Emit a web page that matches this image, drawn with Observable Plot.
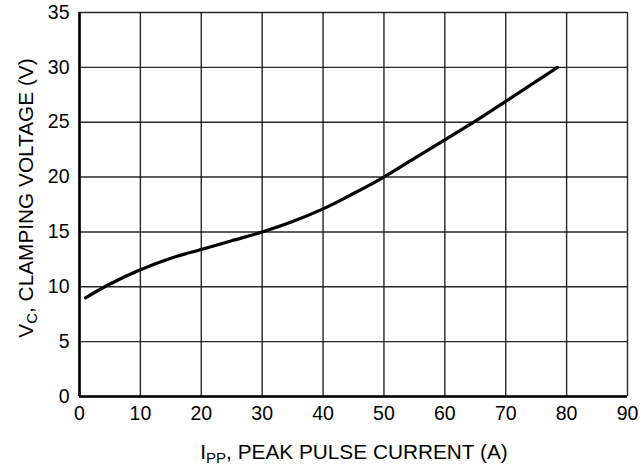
<!DOCTYPE html>
<html>
<head>
<meta charset="utf-8">
<script src="https://cdn.jsdelivr.net/npm/d3@7"></script>
<script src="https://cdn.jsdelivr.net/npm/@observablehq/plot@0.6"></script>
<style>
  html, body { margin: 0; padding: 0; background: #fff; }
  #chart { width: 644px; height: 467px; }
</style>
</head>
<body>
<div id="chart"></div>
<script>
const currentA = [1, 5, 10, 15, 20, 25, 30, 35, 40, 45, 50, 55, 60, 65, 70, 78.5];
const clampV   = [9, 10.25, 11.55, 12.6, 13.4, 14.2, 15, 15.95, 17.1, 18.5, 20, 21.7, 23.4, 25.1, 26.9, 30];
const xTicks = [0, 10, 20, 30, 40, 50, 60, 70, 80, 90];
const yTicks = [0, 5, 10, 15, 20, 25, 30, 35];

const data = currentA.map((x, i) => ({x, y: clampV[i]}));

const plot = Plot.plot({
  width: 644,
  height: 467,
  marginLeft: 79,
  marginRight: 17,
  marginTop: 12,
  marginBottom: 71,
  style: {fontFamily: "'Liberation Sans', Arial, sans-serif", fontSize: "19.5px", color: "#000", background: "#fff"},
  x: {domain: [0, 90], ticks: xTicks, label: null, tickSize: 0, tickPadding: 10},
  y: {domain: [0, 35], ticks: yTicks, label: null, tickSize: 0, tickPadding: 10},
  marks: [
    Plot.gridX(xTicks, {stroke: "#000", strokeOpacity: 0.85, strokeWidth: 1.4}),
    Plot.gridY(yTicks, {stroke: "#000", strokeOpacity: 0.85, strokeWidth: 1.4}),
    Plot.axisX({ticks: xTicks, tickSize: 0, tickPadding: 10, fontSize: 19.5}),
    Plot.axisY({ticks: yTicks, tickSize: 0, tickPadding: 10, fontSize: 19.5}),
    Plot.ruleY([0], {stroke: "#000", strokeWidth: 2.6}),
    Plot.ruleX([0], {stroke: "#000", strokeWidth: 2.6}),
    Plot.line(data, {x: "x", y: "y", curve: "monotone-x", stroke: "#000", strokeWidth: 3.2})
  ]
});
document.getElementById("chart").appendChild(plot);

// axis labels with subscripts
const svg = d3.select(plot);
const xl = svg.append("text")
  .attr("x", 354).attr("y", 459)
  .attr("text-anchor", "middle")
  .attr("font-size", 20.8)
  .attr("fill", "#000");
xl.append("tspan").text("I");
xl.append("tspan").attr("font-size", 15).attr("dy", 4).text("PP");
xl.append("tspan").attr("dy", -4).text(", PEAK PULSE CURRENT (A)");

const yl = svg.append("text")
  .attr("transform", "translate(33,198) rotate(-90)")
  .attr("text-anchor", "middle")
  .attr("font-size", 20.8)
  .attr("fill", "#000");
yl.append("tspan").text("V");
yl.append("tspan").attr("font-size", 15).attr("dy", 4).text("C");
yl.append("tspan").attr("dy", -4).text(", CLAMPING VOLTAGE (V)");
</script>
</body>
</html>
